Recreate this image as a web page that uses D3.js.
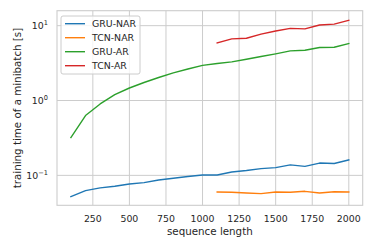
<!DOCTYPE html>
<html><head><meta charset="utf-8">
<script src="https://cdn.jsdelivr.net/npm/d3@7/dist/d3.min.js"></script>
<style>body{margin:0;background:#fff}svg{display:block}</style>
</head><body>
<svg id="c" width="374" height="249"></svg>
<script>
const seqAll = [100,200,300,400,500,600,700,800,900,1000,1100,1200,1300,1400,1500,1600,1700,1800,1900,2000];
const seqTcn = [1100,1200,1300,1400,1500,1600,1700,1800,1900,2000];
const gruNar = [0.052,0.0626,0.068,0.0715,0.0768,0.080,0.0868,0.0915,0.0964,0.101,0.101,0.111,0.116,0.123,0.127,0.138,0.132,0.146,0.144,0.161];
const tcnNar = [0.060,0.0594,0.0582,0.057,0.060,0.0594,0.0612,0.0582,0.0604,0.060];
const gruAr = [0.32,0.63,0.90,1.20,1.47,1.74,2.03,2.34,2.64,2.95,3.12,3.28,3.56,3.87,4.2,4.6,4.7,5.1,5.15,5.78];
const tcnAr = [5.89,6.66,6.8,7.7,8.5,9.2,9.06,10.2,10.5,11.8];
const seriesNames = ["GRU-NAR","TCN-NAR","GRU-AR","TCN-AR"];
const colors = ["#1f77b4","#ff7f0e","#2ca02c","#d62728"];
const xTicks = [250,500,750,1000,1250,1500,1750,2000];
const yTicks = [0.1,1,10];
const yTickExp = ["−1","0","1"];
const xLabel = "sequence length";
const yLabel = "training time of a minibatch [s]";

const series = [
  {name: seriesNames[0], x: seqAll, y: gruNar, color: colors[0]},
  {name: seriesNames[1], x: seqTcn, y: tcnNar, color: colors[1]},
  {name: seriesNames[2], x: seqAll, y: gruAr, color: colors[2]},
  {name: seriesNames[3], x: seqTcn, y: tcnAr, color: colors[3]},
];

const L = 57, R = 362.7, T = 10.7, B = 205.3;
const svg = d3.select("#c");
const x = d3.scaleLinear().domain([5, 2095]).range([L, R]);
const y = d3.scaleLog().domain([Math.pow(10,-1.4), Math.pow(10,1.2)]).range([B, T]);
const txt = "#262626", grid = "#cccccc", font = "DejaVu Sans, sans-serif";

// grid
const g = svg.append("g");
g.selectAll(".gx").data(xTicks).join("line")
  .attr("x1", d => x(d)).attr("x2", d => x(d)).attr("y1", T).attr("y2", B)
  .attr("stroke", grid).attr("stroke-width", 1);
g.selectAll(".gy").data(yTicks).join("line")
  .attr("x1", L).attr("x2", R).attr("y1", d => y(d)).attr("y2", d => y(d))
  .attr("stroke", grid).attr("stroke-width", 1);
// spines
svg.append("rect").attr("x", L).attr("y", T).attr("width", R-L).attr("height", B-T)
  .attr("fill", "none").attr("stroke", grid).attr("stroke-width", 1.1);

// x tick labels
svg.selectAll(".xt").data(xTicks).join("text")
  .attr("x", d => x(d)).attr("y", 221.5).attr("text-anchor", "middle")
  .attr("font-family", font).attr("font-size", 9.4).attr("fill", txt).text(d => d);

// y tick labels
const yt = svg.selectAll(".yt").data(yTicks).join("text")
  .attr("x", 48).attr("y", d => y(d) + 3.3).attr("text-anchor", "end")
  .attr("font-family", font).attr("font-size", 9.4).attr("fill", txt);
yt.append("tspan").text("10");
yt.append("tspan").attr("dy", -4).attr("font-size", 6.6).text((d,i) => yTickExp[i]);

// axis labels
svg.append("text").attr("x", (L+R)/2).attr("y", 235).attr("text-anchor", "middle")
  .attr("font-family", font).attr("font-size", 10.3).attr("fill", txt).text(xLabel);
svg.append("text").attr("transform", `translate(21,${(T+B)/2}) rotate(-90)`)
  .attr("text-anchor", "middle").attr("font-family", font).attr("font-size", 10.3)
  .attr("fill", txt).text(yLabel);

// lines
const line = d3.line().x(d => x(d[0])).y(d => y(d[1]));
svg.selectAll(".ln").data(series).join("path")
  .attr("d", s => line(s.x.map((v,i) => [v, s.y[i]])))
  .attr("fill", "none").attr("stroke", s => s.color).attr("stroke-width", 1.4)
  .attr("stroke-linejoin", "round").attr("stroke-linecap", "square");

// legend
const lg = svg.append("g");
lg.append("rect").attr("x", 61).attr("y", 16).attr("width", 79).attr("height", 58)
  .attr("rx", 2).attr("fill", "#fff").attr("fill-opacity", 0.8)
  .attr("stroke", grid).attr("stroke-width", 1);
series.forEach((s, i) => {
  const yy = 23.7 + i * 14;
  lg.append("line").attr("x1", 65).attr("x2", 85).attr("y1", yy).attr("y2", yy)
    .attr("stroke", s.color).attr("stroke-width", 1.4);
  lg.append("text").attr("x", 92).attr("y", yy + 3.4).attr("font-family", font)
    .attr("font-size", 9.4).attr("fill", txt).text(s.name);
});
</script>
</body></html>
